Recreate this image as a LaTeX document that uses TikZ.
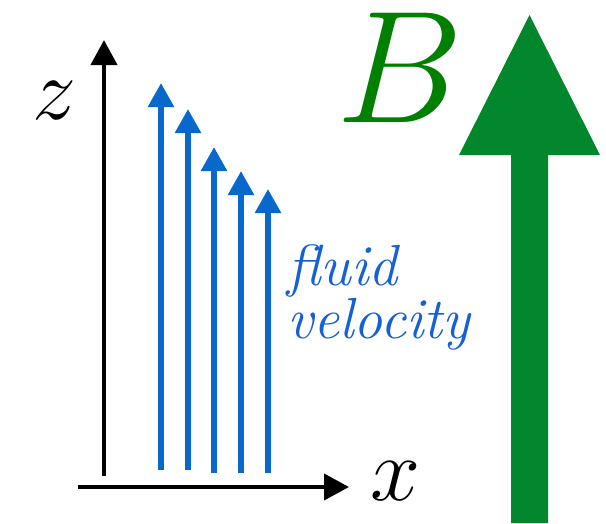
\RequirePackage{fix-cm}
\documentclass[tikz,border=0pt]{standalone}
\usetikzlibrary{arrows.meta}
\definecolor{velblue}{RGB}{8,104,204}
\definecolor{txtblue}{RGB}{20,96,214}
\definecolor{bgreen}{RGB}{2,135,45}
\definecolor{bletter}{RGB}{0,128,0}
\tikzset{
  axis/.style={line width=4pt,-{Triangle[length=25pt,width=26pt]}},
  vel/.style={velblue,line width=5.5pt,-{Triangle[length=24pt,width=25pt]}},
  lbl/.style={inner sep=0pt,anchor=base west}
}
\begin{document}
\begin{tikzpicture}[x=1pt,y=-1pt]
\useasboundingbox (0,0) rectangle (606,523);
% axes
\coordinate (zb) at (104,476);
\coordinate (zt) at (104,40);
\coordinate (xb) at (78,487);
\coordinate (xt) at (349,487);
\draw[axis] (zb) -- (zt);
\draw[axis] (xb) -- (xt);
\node[lbl,font=\fontsize{88}{88}\selectfont] (zl) at (32,119) {$z$};
\node[lbl,font=\fontsize{90}{90}\selectfont] (xl) at (370,500) {$x$};
% velocity arrows
\foreach \n/\x/\yb/\yt in {1/161/470/83, 2/188/470/109, 3/214/473/147, 4/241/473/171, 5/268/473/189}{
  \coordinate (vb\n) at (\x,\yb);
  \coordinate (vt\n) at (\x,\yt);
  \draw[vel] (vb\n) -- (vt\n);
}
\node[inner sep=0pt,anchor=base west,align=left,text=txtblue,font=\fontsize{58}{53}\selectfont\itshape] (fv) at (287,338)
  {fluid\\velocity};
% B field arrow
\fill[bgreen] (511,523) -- (511,155) -- (459,155) -- (529.5,15) -- (600,155) -- (548,155) -- (548,523) -- cycle;
\node[lbl,text=bletter,font=\fontsize{160}{160}\selectfont] (bl) at (336,122) {$B$};
\end{tikzpicture}
\end{document}
